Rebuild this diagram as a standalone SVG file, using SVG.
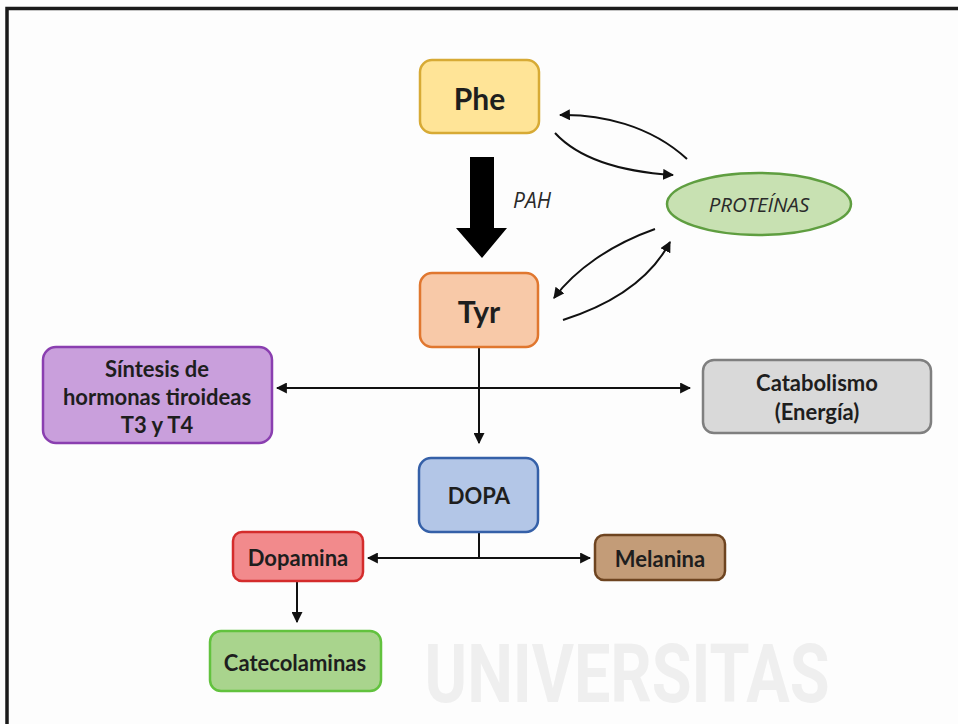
<svg xmlns="http://www.w3.org/2000/svg" width="958" height="724" viewBox="0 0 958 724">
  <defs>
    <marker id="tip" viewBox="0 0 10 10" refX="9" refY="5" markerWidth="5.5" markerHeight="5.5" orient="auto-start-reverse" markerUnits="strokeWidth">
      <path d="M0,0 L10,5 L0,10 z" fill="#111"/>
    </marker>
    <style>
      .box { stroke-width: 2.5; }
      .lbl { font-family: Lato, "Open Sans", "Liberation Sans", sans-serif; font-weight: 700; fill: #1e1e1e; text-anchor: middle; dominant-baseline: central; font-size: 22px; }
      .big { font-size: 30px; }
      .ital { font-family: "Open Sans", "Liberation Sans", sans-serif; font-style: italic; fill: #2a2a2a; dominant-baseline: central; }
      .link { fill: none; stroke: #111; stroke-width: 2; }
    </style>
  </defs>

  <!-- page background and frame -->
  <rect x="0" y="0" width="958" height="724" fill="#fdfdfd"/>
  <rect x="7" y="8.5" width="970" height="740" fill="none" stroke="#1a1a1a" stroke-width="3.5"/>

  <!-- faint background watermark -->
  <text x="627" y="702" font-family="Roboto, 'DejaVu Sans', sans-serif" font-weight="700" font-size="82" fill="#efefef" text-anchor="middle" textLength="405" lengthAdjust="spacingAndGlyphs">UNIVERSITAS</text>

  <!-- connectors -->
  <g id="connectors">
    <!-- PAH conversion: heavy arrow Phe -> Tyr -->
    <path d="M470,157 L494,157 L494,228 L507,228 L482,258 L456,228 L470,228 z" fill="#000"/>
    <text class="ital" x="513" y="200" font-size="21">PAH</text>

    <!-- exchange with the protein pool -->
    <path class="link" d="M687,159 C650,125 600,114 560,115" marker-end="url(#tip)"/>
    <path class="link" d="M555,133 C580,160 625,172 673,175" marker-end="url(#tip)"/>
    <path class="link" d="M655,229 C610,245 575,270 554,298" marker-end="url(#tip)"/>
    <path class="link" d="M563,320 C610,305 650,280 670,242" marker-end="url(#tip)"/>

    <!-- Tyr branches -->
    <path class="link" d="M479,347 L479,443" marker-end="url(#tip)"/>
    <path class="link" d="M277,388 L690,388" marker-start="url(#tip)" marker-end="url(#tip)"/>

    <!-- DOPA branches -->
    <path class="link" d="M479,532 L479,558"/>
    <path class="link" d="M368,558 L590,558" marker-start="url(#tip)" marker-end="url(#tip)"/>

    <!-- Dopamina -> Catecolaminas -->
    <path class="link" d="M297,581 L297,622" marker-end="url(#tip)"/>
  </g>

  <g id="phe">
    <rect class="box" x="420" y="60" width="119" height="73" rx="12" fill="#ffe497" stroke="#d7aa35"/>
    <text class="lbl big" x="479.5" y="98">Phe</text>
  </g>

  <g id="proteinas">
    <ellipse class="box" cx="759" cy="204" rx="92" ry="31" fill="#c8e1b2" stroke="#5f9e40"/>
    <text class="ital" x="759" y="204" font-size="20.5" text-anchor="middle">PROTEÍNAS</text>
  </g>

  <g id="tyr">
    <rect class="box" x="420" y="273" width="118" height="74" rx="12" fill="#f8c9a8" stroke="#e0772f"/>
    <text class="lbl big" x="479" y="311">Tyr</text>
  </g>

  <g id="sintesis">
    <rect class="box" x="43" y="347" width="229" height="96" rx="13" fill="#c99fdc" stroke="#8a3fb0"/>
    <text class="lbl" x="157" y="368">Síntesis de</text>
    <text class="lbl" x="157" y="396">hormonas tiroideas</text>
    <text class="lbl" x="157" y="424">T3 y T4</text>
  </g>

  <g id="catabolismo">
    <rect class="box" x="703" y="360" width="228" height="73" rx="11" fill="#d9d9d9" stroke="#7f7f7f"/>
    <text class="lbl" x="817" y="382">Catabolismo</text>
    <text class="lbl" x="817" y="411">(Energía)</text>
  </g>

  <g id="dopa">
    <rect class="box" x="419" y="458" width="119" height="74" rx="12" fill="#b3c6e7" stroke="#3560a8"/>
    <text class="lbl" x="479" y="495" font-size="20">DOPA</text>
  </g>

  <g id="dopamina">
    <rect class="box" x="233" y="532" width="130" height="49" rx="9" fill="#f28a8c" stroke="#d42c2c"/>
    <text class="lbl" x="298" y="557">Dopamina</text>
  </g>

  <g id="melanina">
    <rect class="box" x="595" y="535" width="130" height="45" rx="9" fill="#c39c78" stroke="#6e4420"/>
    <text class="lbl" x="660" y="558">Melanina</text>
  </g>

  <g id="catecolaminas">
    <rect class="box" x="210" y="631" width="171" height="60" rx="11" fill="#a9d48d" stroke="#62c23e"/>
    <text class="lbl" x="295" y="662">Catecolaminas</text>
  </g>
</svg>
